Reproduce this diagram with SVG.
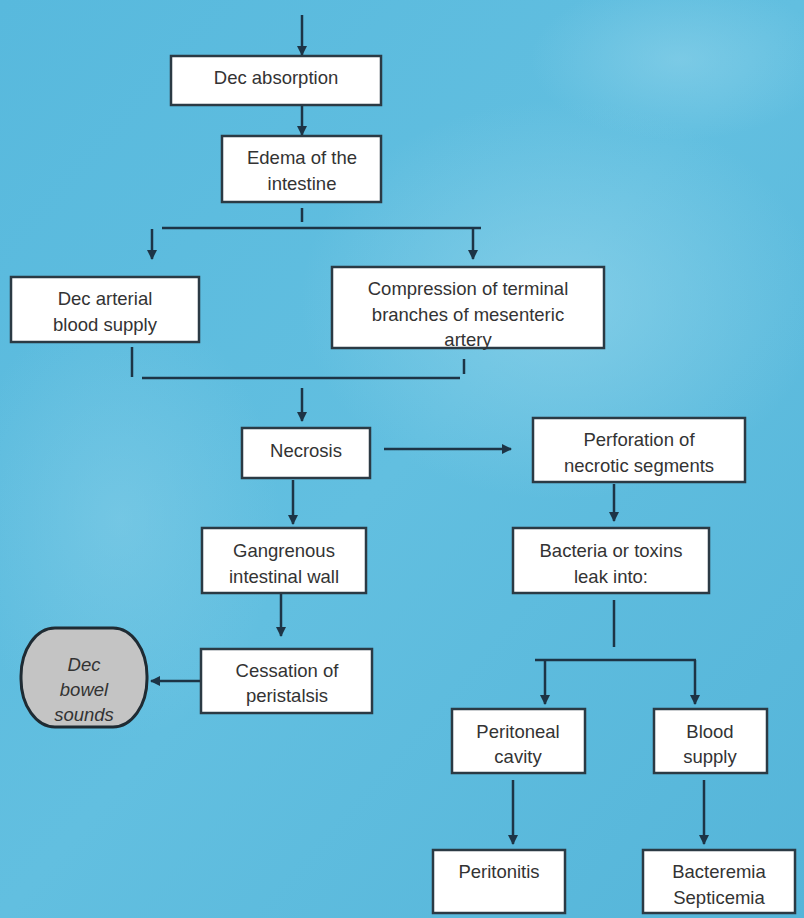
<svg xmlns="http://www.w3.org/2000/svg" width="804" height="918" viewBox="0 0 804 918">
<defs>
<linearGradient id="bg" x1="0" y1="0" x2="1" y2="1">
<stop offset="0" stop-color="#58b9dd"/>
<stop offset="0.5" stop-color="#62bfe0"/>
<stop offset="1" stop-color="#55b5d9"/>
</linearGradient>
<radialGradient id="glow1" cx="0.5" cy="0.5" r="0.5">
<stop offset="0" stop-color="#8fd3ea" stop-opacity="0.7"/>
<stop offset="1" stop-color="#8fd3ea" stop-opacity="0"/>
</radialGradient>
<marker id="ah" viewBox="0 0 10 10" refX="9" refY="5" markerWidth="4" markerHeight="4" orient="auto" markerUnits="strokeWidth">
<path d="M0,0 L10,5 L0,10 z" fill="#1d3446"/>
</marker>
<style>
.box{fill:#ffffff;stroke:#2b3a44;stroke-width:2.5}
.t{font-family:"Liberation Sans",Arial,sans-serif;font-size:18.5px;fill:#333;text-anchor:middle}
.ti{font-family:"Liberation Sans",Arial,sans-serif;font-size:18.5px;fill:#333;text-anchor:middle;font-style:italic}
.c{fill:none;stroke:#1d3446;stroke-width:2.5}
.a{fill:none;stroke:#1d3446;stroke-width:2.5;marker-end:url(#ah)}
</style>
</defs>
<rect width="804" height="918" fill="url(#bg)"/>
<ellipse cx="560" cy="300" rx="260" ry="200" fill="url(#glow1)"/>
<ellipse cx="120" cy="520" rx="160" ry="220" fill="url(#glow1)" opacity="0.6"/>
<ellipse cx="680" cy="60" rx="150" ry="80" fill="url(#glow1)" opacity="0.8"/>

<g id="connectors">
<line class="a" x1="302" y1="15" x2="302" y2="55"/>
<line class="a" x1="302" y1="105" x2="302" y2="135"/>
<line class="c" x1="302" y1="208" x2="302" y2="222"/>
<line class="c" x1="162" y1="228" x2="481" y2="228"/>
<line class="a" x1="152" y1="229" x2="152" y2="259"/>
<line class="a" x1="473" y1="228" x2="473" y2="259"/>
<line class="c" x1="132" y1="347" x2="132" y2="377"/>
<line class="c" x1="464" y1="359" x2="464" y2="374"/>
<line class="c" x1="142" y1="378" x2="460" y2="378"/>
<line class="a" x1="302" y1="388" x2="302" y2="421"/>
<line class="a" x1="384" y1="449" x2="511" y2="449"/>
<line class="a" x1="293" y1="480" x2="293" y2="524"/>
<line class="a" x1="614" y1="484" x2="614" y2="521"/>
<line class="a" x1="281" y1="594" x2="281" y2="636"/>
<line class="a" x1="201" y1="681" x2="151" y2="681"/>
<line class="c" x1="614" y1="600" x2="614" y2="647"/>
<line class="c" x1="535" y1="660" x2="696" y2="660"/>
<line class="a" x1="545" y1="660" x2="545" y2="704"/>
<line class="a" x1="695" y1="660" x2="695" y2="704"/>
<line class="a" x1="513" y1="780" x2="513" y2="844"/>
<line class="a" x1="704" y1="780" x2="704" y2="844"/>
</g>

<g id="dec-absorption">
<rect class="box" x="171" y="56" width="210" height="49"/>
<text class="t" x="276" y="84">Dec absorption</text>
</g>
<g id="edema">
<rect class="box" x="222" y="136" width="159" height="66"/>
<text class="t" x="302" y="164">Edema of the</text>
<text class="t" x="302" y="190">intestine</text>
</g>
<g id="dec-arterial">
<rect class="box" x="11" y="277" width="188" height="65"/>
<text class="t" x="105" y="305">Dec arterial</text>
<text class="t" x="105" y="331">blood supply</text>
</g>
<g id="compression">
<rect class="box" x="332" y="267" width="272" height="81"/>
<text class="t" x="468" y="295">Compression of terminal</text>
<text class="t" x="468" y="321">branches of mesenteric</text>
<text class="t" x="468" y="346">artery</text>
</g>
<g id="necrosis">
<rect class="box" x="242" y="428" width="128" height="50"/>
<text class="t" x="306" y="457">Necrosis</text>
</g>
<g id="perforation">
<rect class="box" x="533" y="418" width="212" height="64"/>
<text class="t" x="639" y="446">Perforation of</text>
<text class="t" x="639" y="472">necrotic segments</text>
</g>
<g id="gangrenous">
<rect class="box" x="202" y="528" width="164" height="65"/>
<text class="t" x="284" y="557">Gangrenous</text>
<text class="t" x="284" y="583">intestinal wall</text>
</g>
<g id="bacteria">
<rect class="box" x="513" y="528" width="196" height="65"/>
<text class="t" x="611" y="557">Bacteria or toxins</text>
<text class="t" x="611" y="583">leak into:</text>
</g>
<g id="cessation">
<rect class="box" x="201" y="649" width="171" height="64"/>
<text class="t" x="287" y="677">Cessation of</text>
<text class="t" x="287" y="702">peristalsis</text>
</g>
<g id="dec-bowel">
<rect x="21" y="628" width="126" height="99" rx="34" ry="48" fill="#c4c4c4" stroke="#1f2b33" stroke-width="3"/>
<text class="ti" x="84" y="671">Dec</text>
<text class="ti" x="84" y="696">bowel</text>
<text class="ti" x="84" y="721">sounds</text>
</g>
<g id="peritoneal">
<rect class="box" x="452" y="709" width="133" height="64"/>
<text class="t" x="518" y="738">Peritoneal</text>
<text class="t" x="518" y="763">cavity</text>
</g>
<g id="blood-supply">
<rect class="box" x="654" y="709" width="113" height="64"/>
<text class="t" x="710" y="738">Blood</text>
<text class="t" x="710" y="763">supply</text>
</g>
<g id="peritonitis">
<rect class="box" x="433" y="850" width="132" height="63"/>
<text class="t" x="499" y="878">Peritonitis</text>
</g>
<g id="bacteremia">
<rect class="box" x="643" y="850" width="152" height="63"/>
<text class="t" x="719" y="878">Bacteremia</text>
<text class="t" x="719" y="904">Septicemia</text>
</g>
</svg>
